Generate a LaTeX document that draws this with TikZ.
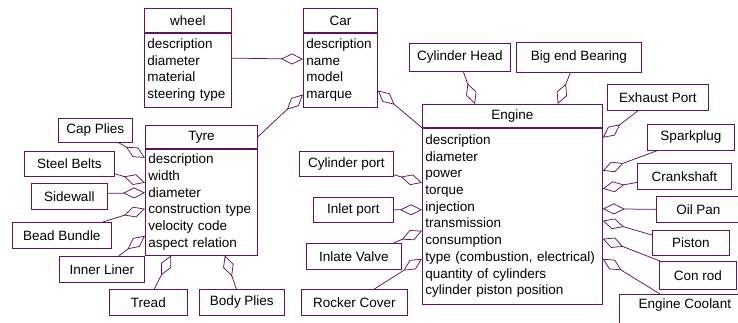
\documentclass[tikz,border=0pt]{standalone}
\usepackage{fontspec}
\setmainfont{Liberation Sans}
\definecolor{umlpurple}{RGB}{96, 20, 96}
\usetikzlibrary{arrows.meta}

\begin{document}
\begin{tikzpicture}[x=1pt, y=-1pt,
  every node/.style={font=\fontsize{13.5}{16.7}\selectfont, text=black},
  partbox/.style={draw=umlpurple, line width=0.75pt, anchor=north west, inner sep=0pt, align=center},
  classhead/.style={draw=umlpurple, line width=0.75pt, anchor=north west, inner sep=0pt, minimum height=24pt},
  classbody/.style={draw=umlpurple, line width=0.75pt, anchor=north west, inner xsep=3pt, inner ysep=0pt, align=left},
  agg/.style={draw=umlpurple, line width=0.75pt, -{Diamond[open, length=22pt, width=11pt]}}]
  \useasboundingbox (0, 0) rectangle (738, 322);

  % Classes
  \node[classhead, minimum width=87pt] (wheel) at (144, 8) {wheel};
  \node[classbody, text width=81pt, minimum height=74pt] (wheelb) at (wheel.south west) {description\\diameter\\material\\steering type};
  \node[classhead, minimum width=74pt] (car) at (303, 8) {Car};
  \node[classbody, text width=68pt, minimum height=74pt] (carb) at (car.south west) {description\\name\\model\\marque};
  \node[classhead, minimum width=112pt, minimum height=23pt] (tyre) at (145, 125) {Tyre};
  \node[classbody, text width=106pt, minimum height=106pt] (tyreb) at (tyre.south west) {description\\width\\diameter\\construction type\\velocity code\\aspect relation};
  \node[classhead, minimum width=180pt, minimum height=23pt] (engine) at (422, 104) {Engine};
  \node[classbody, text width=174pt, minimum height=176pt] (engineb) at (engine.south west) {description\\diameter\\power\\torque\\injection\\transmission\\consumption\\type (combustion, electrical)\\quantity of cylinders\\cylinder piston position};

  % Tyre parts
  \node[partbox, minimum width=74pt, minimum height=24pt] (capplies) at (58, 118) {Cap Plies};
  \node[partbox, minimum width=90pt, minimum height=25pt] (steelbelts) at (24, 151) {Steel Belts};
  \node[partbox, minimum width=76pt, minimum height=26pt] (sidewall) at (31, 183) {Sidewall};
  \node[partbox, minimum width=99pt, minimum height=26pt] (beadbundle) at (12, 222) {Bead Bundle};
  \node[partbox, minimum width=85pt, minimum height=26pt] (innerliner) at (59, 256) {Inner Liner};
  \node[partbox, minimum width=78pt, minimum height=26pt] (tread) at (109, 289) {Tread};
  \node[partbox, minimum width=85pt, minimum height=26pt] (bodyplies) at (199, 289) {Body Plies};

  % Engine parts
  \node[partbox, minimum width=101pt, minimum height=28pt] (cylhead) at (409, 43) {Cylinder Head};
  \node[partbox, minimum width=125pt, minimum height=30pt] (bigend) at (516, 42) {Big end Bearing};
  \node[partbox, minimum width=101pt, minimum height=26pt] (exhaust) at (607, 84) {Exhaust Port};
  \node[partbox, minimum width=87pt, minimum height=26pt] (sparkplug) at (647, 124) {Sparkplug};
  \node[partbox, minimum width=94pt, minimum height=26pt] (crankshaft) at (637, 163) {Crankshaft};
  \node[partbox, minimum width=84pt, minimum height=26pt] (oilpan) at (656, 196) {Oil Pan};
  \node[partbox, minimum width=77pt, minimum height=25pt] (piston) at (652, 230) {Piston};
  \node[partbox, minimum width=77pt, minimum height=28pt] (conrod) at (659, 261) {Con rod};
  \node[partbox, minimum width=131pt, inner ysep=4pt, text height=10pt, text depth=26pt] (coolant) at (619, 294) {Engine Coolant};
  \node[partbox, minimum width=94pt, minimum height=25pt] (cylport) at (299, 151) {Cylinder port};
  \node[partbox, minimum width=80pt, minimum height=25pt] (inletport) at (313, 197) {Inlet port};
  \node[partbox, minimum width=95pt, minimum height=26pt] (inlatevalve) at (306, 243) {Inlate Valve};
  \node[partbox, minimum width=106pt, minimum height=26pt] (rockercover) at (301, 289) {Rocker Cover};

  % Aggregations
  \draw[agg] ([yshift=12pt]wheelb.east) -- ([yshift=11pt]carb.west);
  \draw[agg] (tyre.east) -- ([yshift=13pt]carb.south west);
  \draw[agg] (engineb.north west) -- ([yshift=17pt]carb.south east);

  \draw[agg] ([xshift=-14pt]capplies.south east) -- ([yshift=-9pt]tyreb.north west);
  \draw[agg] ([yshift=3pt]steelbelts.south east) -- ([yshift=-34pt]tyreb.north west);
  \draw[agg] ([yshift=3pt]sidewall.east) -- ([yshift=-44pt]tyreb.north west);
  \draw[agg] ([xshift=-9pt]beadbundle.north east) -- ([yshift=-60pt]tyreb.north west);
  \draw[agg] ([xshift=-26pt]innerliner.north east) -- ([yshift=-87pt]tyreb.north west);
  \draw[agg] ([xshift=6pt]tread.north) -- ([xshift=26pt]tyreb.south west);
  \draw[agg] ([xshift=-5.5pt]bodyplies.north) -- ([xshift=-33pt]tyreb.south east);

  \draw[agg] ([xshift=3.5pt]cylhead.south) -- ([xshift=53pt]engine.north west);
  \draw[agg] ([xshift=-8.5pt]bigend.south) -- ([xshift=-45pt]engine.north east);
  \draw[agg] ([xshift=31pt]exhaust.south west) -- ([yshift=-10pt]engineb.north east);
  \draw[agg] ([xshift=10pt]sparkplug.south west) -- ([yshift=-43pt]engineb.north east);
  \draw[agg] ([yshift=-6pt]crankshaft.west) -- ([yshift=-61pt]engineb.north east);
  \draw[agg] (oilpan.west) -- ([yshift=-81pt]engineb.north east);
  \draw[agg] ([yshift=-5pt]piston.north west) -- ([yshift=-93pt]engineb.north east);
  \draw[agg] ([xshift=1pt]conrod.north west) -- ([yshift=-111pt]engineb.north east);
  \draw[agg] ([xshift=41pt]coolant.north west) -- ([yshift=-131pt]engineb.north east);
  \draw[agg] ([yshift=2pt]cylport.south east) -- ([yshift=-55pt]engineb.north west);
  \draw[agg] (inletport.east) -- ([yshift=-82pt]engineb.north west);
  \draw[agg] ([xshift=-8pt]inlatevalve.north east) -- ([yshift=-103pt]engineb.north west);
  \draw[agg] ([xshift=20pt]rockercover.north) -- ([yshift=-131pt]engineb.north west);
\end{tikzpicture}
\end{document}
